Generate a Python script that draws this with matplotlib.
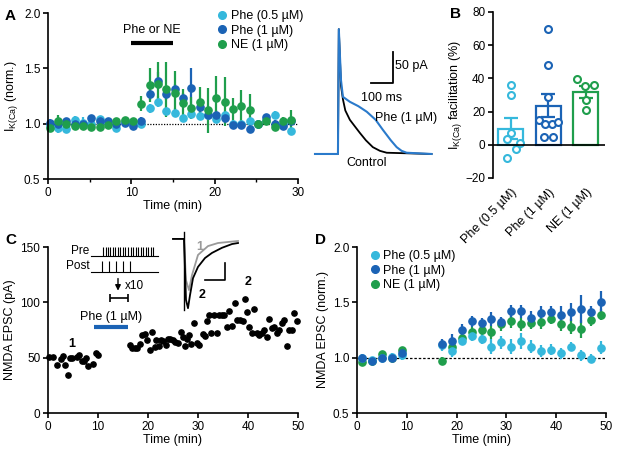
import matplotlib
matplotlib.use("Agg")
import matplotlib.pyplot as plt
from matplotlib.lines import Line2D
import numpy as np

plt.rcParams['font.family'] = ['Liberation Sans', 'DejaVu Sans']
plt.rcParams['mathtext.fontset'] = 'custom'
plt.rcParams['mathtext.rm'] = 'Liberation Sans'
plt.rcParams['mathtext.it'] = 'Liberation Sans:italic'
plt.rcParams['font.size'] = 8.5
plt.rcParams['axes.linewidth'] = 1.2
for a in ('xtick', 'ytick'):
    plt.rcParams[a + '.major.width'] = 1.2
    plt.rcParams[a + '.major.size'] = 3.5
    plt.rcParams[a + '.minor.width'] = 1.0
    plt.rcParams[a + '.minor.size'] = 2.0
    plt.rcParams[a + '.major.pad'] = 2

CYAN = '#35b8dc'
BLUE = '#1b63b5'
GREEN = '#1f9e4c'
TRACE_BLUE = '#2a7acb'

labels = ['Phe (0.5 µM)', 'Phe (1 µM)', 'NE (1 µM)']
colors = [CYAN, BLUE, GREEN]

# ---- panel A: IK(Ca) time course ----
time_a = np.arange(30) + 0.2
ik_phe05 = [0.98, 0.96, 0.95, 1.03, 1.01, 1.00, 1.04, 1.01, 0.96, 1.02,
            1.00, 1.00, 1.14, 1.20, 1.11, 1.10, 1.05, 1.09, 1.07, 1.08,
            1.04, 1.08, 1.00, 1.00, 1.02, 1.00, 1.03, 1.08, 1.00, 0.93]
ik_phe05_err = [0.03, 0.04, 0.03, 0.04, 0.05, 0.03, 0.03, 0.03, 0.03, 0.03,
                0.03, 0.03, 0.04, 0.05, 0.04, 0.04, 0.03, 0.04, 0.03, 0.03,
                0.03, 0.03, 0.03, 0.03, 0.03, 0.03, 0.03, 0.03, 0.03, 0.03]
ik_phe1 = [1.01, 1.00, 1.02, 1.00, 1.00, 1.05, 1.02, 1.02, 1.00, 1.01,
           0.98, 1.02, 1.27, 1.39, 1.27, 1.31, 1.23, 1.32, 1.15, 1.08,
           1.08, 1.05, 0.99, 0.99, 0.95, 1.00, 1.06, 1.00, 0.98, 1.02]
ik_phe1_err = [0.03, 0.03, 0.03, 0.03, 0.03, 0.03, 0.03, 0.03, 0.03, 0.03,
               0.03, 0.04, 0.06, 0.08, 0.06, 0.05, 0.05, 0.18, 0.05, 0.04,
               0.04, 0.04, 0.03, 0.03, 0.03, 0.03, 0.03, 0.03, 0.03, 0.03]
ik_ne = [0.96, 1.02, 1.00, 0.98, 0.98, 0.97, 0.97, 0.99, 1.02, 1.03,
         1.02, 1.18, 1.35, 1.36, 1.31, 1.28, 1.19, 1.14, 1.20, 1.12,
         1.23, 1.20, 1.13, 1.16, 1.12, 1.00, 1.02, 0.97, 1.02, 1.03]
ik_ne_err = [0.03, 0.06, 0.04, 0.03, 0.03, 0.03, 0.03, 0.03, 0.03, 0.03,
             0.03, 0.07, 0.15, 0.20, 0.25, 0.20, 0.12, 0.10, 0.13, 0.20,
             0.20, 0.22, 0.10, 0.14, 0.15, 0.03, 0.03, 0.03, 0.04, 0.09]

# panel A inset traces (ms, pA)
tr_t_phe = [0, 106, 110, 120, 129, 161, 200, 239, 280, 313, 350, 377, 400, 423, 538]
tr_i_phe = [0, 0, 201, 119, 92, 84, 77, 68, 55, 39, 22, 11, 5, 2, 0]
tr_t_ctl = [0, 106, 110, 120, 129, 140, 161, 185, 207, 235, 267, 300, 331, 538]
tr_i_ctl = [0, 0, 201, 110, 88, 70, 55, 44, 34, 22, 11, 5, 2, 0]

# ---- panel B: facilitation ----
fac_mean = [9.6, 23.5, 32.0]
fac_sem = [6.4, 7.0, 3.6]
fac_pts = [[36.2, 30.2, 7.2, 3.2, 1.2, -2.8, -7.8],
           [69.5, 47.8, 28.7, 15.0, 12.6, 12.6, 13.6, 4.6, 5.0],
           [39.4, 35.4, 35.8, 27.1, 21.1]]
fac_jit = [[0, 0, 0, -0.11, 0.25, 0.13, -0.11],
           [0, 0, 0, -0.24, -0.09, 0.09, 0.25, -0.12, 0.12],
           [-0.22, -0.02, 0.22, 0, 0]]

# ---- panel C: single cell NMDA EPSC ----
c_time = [0.2, 1.0, 1.8, 2.5, 3.0, 3.3, 3.9, 4.3, 4.8, 5.7, 6.2, 6.7, 7.1, 7.5, 8.0,
          8.9, 9.7, 10.1,
          16.3, 16.8, 17.3, 17.8, 18.3, 18.9, 19.3, 19.7, 20.3, 20.9, 21.3, 21.7,
          22.2, 22.6, 23.0, 23.5, 24.0, 24.5, 25.0, 25.5, 26.0, 26.7, 27.1, 27.5,
          27.8, 28.2, 28.7, 29.3, 29.8, 30.3, 31.0, 31.4, 31.8, 32.2, 32.7, 33.3,
          33.8, 34.3, 34.9, 35.3, 35.9, 36.3, 36.9, 37.4, 37.9, 38.5, 39.0, 39.5,
          39.8, 40.3, 40.8, 41.3, 41.8, 42.2, 42.7, 43.2, 43.7, 44.3, 44.8, 45.3,
          45.8, 46.3, 46.9, 47.3, 47.8, 48.2, 48.7, 49.3, 49.9]
c_epsc = [51, 51, 43, 48.6, 51.6, 43, 34.5, 50, 50, 50.7, 52, 47, 47, 49.5, 42.6,
          44.7, 54.6, 52.8,
          61.5, 59, 59, 58.5, 62, 70.5, 71, 66, 57, 73, 60, 66,
          60.6, 66, 65, 61.5, 66.6, 67, 66, 64.5, 63.6, 73.5, 69, 60.6,
          66.6, 70.5, 62.4, 81.6, 63, 61.5, 71, 69.6, 83.4, 88.5, 72, 88.5,
          72, 88.5, 88.5, 88.5, 78, 92.4, 79, 99.6, 84, 84, 83, 103,
          91, 78, 72, 93.6, 72, 70.5, 72, 75, 69, 85, 76.5, 78,
          72.6, 75, 81, 84, 60.6, 75, 75, 90, 83]

# panel C inset traces (ms, pA)
c_tr_t1 = [0, 50, 55, 65, 80, 95, 125, 175, 225, 325]
c_tr_i1 = [0, 0, 0, -121, -150, -106, -47, -21, -12, -6]
c_tr_t2 = [0, 50, 55, 65, 75, 85, 100, 125, 160, 195, 245, 295, 325]
c_tr_i2 = [0, 0, 0, -179, -203, -165, -115, -82, -56, -41, -26, -15, -12]

pre_spikes = [11.0, 11.5, 12.0, 12.5, 13.0, 13.5, 14.0, 14.5, 15.0, 15.5, 16.0,
              16.5, 17.0, 17.5, 18.0, 18.5, 19.0, 19.5, 20.0, 20.5, 21.0]
post_spikes = [10.8, 12.2, 13.6, 15.0, 16.4]

# ---- panel D: normalised NMDA EPSC ----
time_d = [1, 3, 5, 7, 9, 17, 19, 21, 23, 25, 27, 29, 31, 33, 35, 37, 39, 41, 43, 45, 47, 49]
d_phe05 = [1.00, 0.98, 1.00, 1.01, 1.02, 1.11, 1.06, 1.15, 1.20, 1.17, 1.10,
           1.14, 1.10, 1.15, 1.10, 1.06, 1.07, 1.04, 1.10, 1.02, 0.99, 1.09]
d_phe05_err = [0.03, 0.03, 0.03, 0.03, 0.04, 0.05, 0.05, 0.04, 0.05, 0.05, 0.07,
               0.06, 0.07, 0.07, 0.06, 0.05, 0.05, 0.05, 0.04, 0.05, 0.04, 0.06]
d_phe1 = [1.00, 0.97, 1.00, 1.00, 1.04, 1.12, 1.15, 1.25, 1.33, 1.31, 1.35,
          1.32, 1.42, 1.42, 1.36, 1.40, 1.41, 1.39, 1.41, 1.44, 1.41, 1.50]
d_phe1_err = [0.03, 0.03, 0.03, 0.03, 0.04, 0.05, 0.06, 0.05, 0.05, 0.05, 0.06,
              0.05, 0.06, 0.06, 0.06, 0.07, 0.06, 0.08, 0.08, 0.13, 0.06, 0.10]
d_ne = [0.96, 0.97, 1.03, 1.00, 1.07, 0.97, 1.10, 1.18, 1.23, 1.25, 1.23,
        1.30, 1.33, 1.30, 1.31, 1.32, 1.35, 1.30, 1.28, 1.26, 1.34, 1.39]
d_ne_err = [0.03, 0.03, 0.03, 0.03, 0.03, 0.04, 0.05, 0.05, 0.05, 0.05, 0.06,
            0.06, 0.06, 0.06, 0.05, 0.06, 0.05, 0.06, 0.07, 0.08, 0.05, 0.05]

W, H = 620, 453
fig = plt.figure(figsize=(W / 100, H / 100), dpi=100)


def px_axes(l, t, r, b):
    return fig.add_axes([l / W, 1 - b / H, (r - l) / W, (b - t) / H])


def clean(ax):
    ax.spines['top'].set_visible(False)
    ax.spines['right'].set_visible(False)


def errdots(ax, x, y, e, c, ms=5.2):
    ax.errorbar(x, y, yerr=e, fmt='o', color=c, ms=ms, elinewidth=1.6,
                capsize=0, mec=c, clip_on=False)


# ===== A =====
axA = px_axes(48, 13, 298, 179)
clean(axA)
for y, e, c in zip([ik_phe05, ik_phe1, ik_ne], [ik_phe05_err, ik_phe1_err, ik_ne_err], colors):
    errdots(axA, time_a, y, e, c)
axA.axhline(1.0, color='black', ls=(0, (1, 1.2)), lw=0.9, zorder=0)
axA.set_xlim(0, 30)
axA.set_ylim(0.5, 2.0)
axA.set_xticks([0, 10, 20, 30])
axA.set_xticks([5, 15, 25], minor=True)
axA.set_yticks([0.5, 1.0, 1.5, 2.0])
axA.set_xlabel('Time (min)', fontsize=9, labelpad=1)
axA.set_ylabel(r'I$_{\mathrm{K(Ca)}}$ (norm.)', fontsize=9, labelpad=3)
axA.plot([10, 15], [1.73, 1.73], color='black', lw=3, solid_capstyle='butt')
axA.text(12.5, 1.79, 'Phe or NE', ha='center', va='bottom', fontsize=9)
handles = [Line2D([], [], marker='o', ls='none', color=c, ms=5.5) for c in colors]
axA.legend(handles, labels, loc='upper left', bbox_to_anchor=(210 / W, 1 - 4 / H),
           bbox_transform=fig.transFigure, frameon=False, handletextpad=0.2,
           labelspacing=0.2, handlelength=1.0, borderpad=0, fontsize=9)

# inset traces
insA = px_axes(312, 25, 440, 170)
insA.axis('off')
insA.plot(tr_t_ctl, tr_i_ctl, color='black', lw=1.3)
insA.plot(tr_t_phe, tr_i_phe, color=TRACE_BLUE, lw=1.5)
insA.set_xlim(-13.8, 577)
insA.set_ylim(-25.8, 207.7)
insA.plot([259, 359, 359], [114, 114, 164], color='black', lw=1.3)
insA.text(370, 141, '50 pA', ha='left', va='center', fontsize=9)
insA.text(308, 100, '100 ms', ha='center', va='top', fontsize=9)
insA.text(419, 58, 'Phe (1 µM)', ha='center', va='center', fontsize=9)
insA.text(240, -14, 'Control', ha='center', va='center', fontsize=9)

# ===== B =====
axB = px_axes(493, 12, 605, 178)
clean(axB)
axB.spines['bottom'].set_visible(False)
xb = np.arange(3)
for i in range(3):
    axB.bar(xb[i], fac_mean[i], width=0.67, facecolor='white', edgecolor=colors[i],
            lw=1.6, zorder=2)
    axB.errorbar(xb[i], fac_mean[i], yerr=fac_sem[i], color=colors[i], capsize=5,
                 elinewidth=1.6, capthick=1.6, zorder=3)
    axB.plot(xb[i] + np.array(fac_jit[i]), fac_pts[i], 'o', mfc='white',
             mec=colors[i], mew=1.5, ms=5, zorder=4, clip_on=False)
axB.axhline(0, color='black', lw=1.2, zorder=5)
axB.set_xlim(-0.48, 2.52)
axB.set_ylim(-20, 80)
axB.set_yticks([-20, 0, 20, 40, 60, 80])
axB.set_xticks(xb)
axB.set_xticklabels(labels, rotation=45, ha='right', rotation_mode='anchor', fontsize=9)
axB.tick_params(axis='x', length=0, pad=6)
axB.set_ylabel(r'I$_{\mathrm{K(Ca)}}$ facilitation (%)', fontsize=9, labelpad=1)

# ===== C =====
axC = px_axes(48, 247, 298, 413)
clean(axC)
axC.plot(c_time, c_epsc, 'o', color='black', ms=3.8, clip_on=False)
axC.set_xlim(0, 50)
axC.set_ylim(0, 150)
axC.set_xticks([0, 10, 20, 30, 40, 50])
axC.set_yticks([0, 50, 100, 150])
axC.set_xlabel('Time (min)', fontsize=9, labelpad=1)
axC.set_ylabel('NMDA EPSC (pA)', fontsize=9, labelpad=3)
axC.plot([9.2, 16], [77.4, 77.4], color=BLUE, lw=3, solid_capstyle='butt')
axC.text(12.6, 87, 'Phe (1 µM)', ha='center', va='center', fontsize=9)
axC.text(4.7, 62, '1', ha='center', va='center', fontsize=9, fontweight='bold')
axC.text(40, 118, '2', ha='center', va='center', fontsize=9, fontweight='bold')
# pairing protocol diagram
axC.plot([8.7, 22], [141.6, 141.6], color='black', lw=0.8, clip_on=False)
axC.vlines(pre_spikes, 141.6, 150, color='black', lw=0.8, clip_on=False)
axC.plot([8.7, 22], [127.5, 127.5], color='black', lw=0.8, clip_on=False)
axC.vlines(post_spikes, 127.5, 137.5, color='black', lw=0.8, clip_on=False)
axC.text(8.3, 146, 'Pre', ha='right', va='center', fontsize=8.5)
axC.text(8.3, 133, 'Post', ha='right', va='center', fontsize=8.5)
axC.annotate('', xy=(14, 108), xytext=(14, 124),
             arrowprops=dict(arrowstyle='-|>', color='black', lw=1.0, mutation_scale=8))
axC.text(15.3, 115, 'x10', ha='left', va='center', fontsize=8.5)
axC.errorbar([14.25], [103.5], xerr=[1.75], color='black', capsize=3, elinewidth=1.2,
             capthick=1.2)

insC = px_axes(170, 228, 245, 315)
insC.axis('off')
insC.plot(c_tr_t1, c_tr_i1, color='#9a9a9a', lw=1.3)
insC.plot(c_tr_t2, c_tr_i2, color='black', lw=1.3)
insC.plot([55, 55], [21, -209], color='black', lw=1.0)
insC.plot([160, 260, 260], [-120, -120, -70], color='black', lw=1.2)
insC.set_xlim(-15, 360)
insC.set_ylim(-223, 32)
insC.text(135, -24, '1', color='#9a9a9a', ha='center', va='center', fontsize=9,
          fontweight='bold')
insC.text(145, -165, '2', ha='center', va='center', fontsize=9, fontweight='bold')

# ===== D =====
axD = px_axes(357, 247, 606, 413)
clean(axD)
for y, e, c in zip([d_ne, d_phe05, d_phe1], [d_ne_err, d_phe05_err, d_phe1_err],
                   [GREEN, CYAN, BLUE]):
    errdots(axD, time_d, y, e, c)
axD.axhline(1.0, color='black', ls=(0, (2, 1.5)), lw=0.9, zorder=0)
axD.set_xlim(0, 50)
axD.set_ylim(0.5, 2.0)
axD.set_xticks([0, 10, 20, 30, 40, 50])
axD.set_yticks([0.5, 1.0, 1.5, 2.0])
axD.set_xlabel('Time (min)', fontsize=9, labelpad=1)
axD.set_ylabel('NMDA EPSC (norm.)', fontsize=9, labelpad=3)
axD.legend(handles, labels, loc='upper left', bbox_to_anchor=(362 / W, 1 - 244 / H),
           bbox_transform=fig.transFigure, frameon=False, handletextpad=0.2,
           labelspacing=0.2, handlelength=1.0, borderpad=0, fontsize=9)

# panel letters
for txt, x, y in [('A', 5, 16), ('B', 450, 14), ('C', 5, 240), ('D', 315, 240)]:
    fig.text(x / W, 1 - y / H, txt, fontsize=11, fontweight='bold', va='center')

fig.savefig('out.png', dpi=100)
